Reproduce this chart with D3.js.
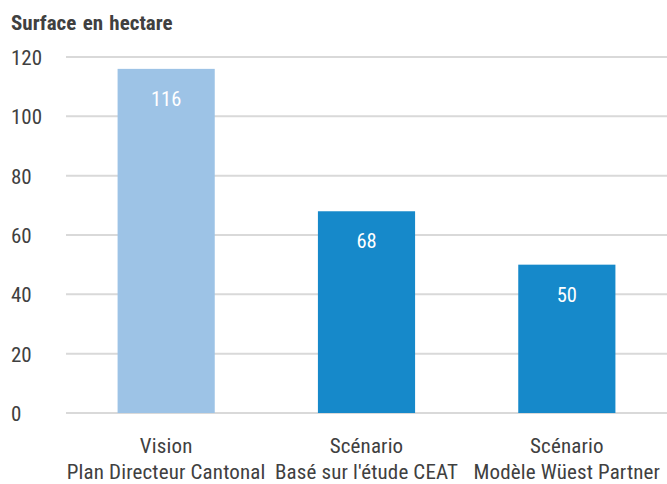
<!DOCTYPE html>
<html>
<head>
<meta charset="utf-8">
<script src="https://cdn.jsdelivr.net/npm/d3@7"></script>
<style>
  html, body { margin: 0; padding: 0; background: #fff; }
  svg { display: block; }
  svg text { font-family: "Liberation Sans Narrow", "Arial Narrow", "Roboto Condensed", sans-serif; }
</style>
</head>
<body>
<svg id="chart" width="667" height="484"></svg>
<script>
// Surface area (hectares) per planning scenario
const categories = [
  ["Vision", "Plan Directeur Cantonal"],
  ["Scénario", "Basé sur l'étude CEAT"],
  ["Scénario", "Modèle Wüest Partner"]
];
const values = [116, 68, 50];
const barColors = ["#9dc3e6", "#1689ca", "#1689ca"];
const yTicks = [0, 20, 40, 60, 80, 100, 120];
const title = "Surface en hectare";

const svg = d3.select("#chart");
const margin = { top: 57, right: 0, bottom: 71, left: 66 };
const W = 667, H = 484;

const x = d3.scaleBand()
  .domain(d3.range(categories.length))
  .range([margin.left, W - margin.right])
  .paddingInner(0.515)
  .paddingOuter(0.2575);

const y = d3.scaleLinear()
  .domain([0, 120])
  .range([H - margin.bottom, margin.top]);

// Title
svg.append("text")
  .attr("x", 11).attr("y", 30)
  .attr("fill", "#404040")
  .attr("font-size", 21)
  .attr("font-weight", "bold")
  .attr("word-spacing", 1.5)
  .text(title);

// Gridlines
svg.append("g")
  .selectAll("line")
  .data(yTicks)
  .join("line")
  .attr("x1", margin.left).attr("x2", W)
  .attr("y1", d => y(d)).attr("y2", d => y(d))
  .attr("stroke", "#d9d9d9")
  .attr("stroke-width", 2);

// Y axis labels
const yAxis = d3.axisLeft(y).tickValues(yTicks).tickSize(0).tickPadding(0);
const gy = svg.append("g")
  .attr("transform", "translate(11,0)")
  .call(yAxis)
  .attr("font-family", null)
  .attr("font-size", null);
gy.select(".domain").remove();
gy.selectAll("text")
  .attr("text-anchor", "start")
  .attr("x", 0)
  .attr("dy", "0.36em")
  .attr("fill", "#404040")
  .attr("font-size", 21);

// Bars
svg.append("g")
  .selectAll("rect")
  .data(values)
  .join("rect")
  .attr("x", (d, i) => x(i))
  .attr("width", x.bandwidth())
  .attr("y", d => y(d))
  .attr("height", d => y(0) - y(d))
  .attr("fill", (d, i) => barColors[i]);

// Value labels
svg.append("g")
  .selectAll("text")
  .data(values)
  .join("text")
  .attr("x", (d, i) => x(i) + x.bandwidth() / 2)
  .attr("y", d => y(d) + 37)
  .attr("text-anchor", "middle")
  .attr("fill", "#ffffff")
  .attr("font-size", 20.5)
  .text(d => d);

// Category labels (two lines)
const cat = svg.append("g")
  .selectAll("text")
  .data(categories)
  .join("text")
  .attr("text-anchor", "middle")
  .attr("fill", "#404040")
  .attr("font-size", 21)
  .attr("letter-spacing", 0.15);
cat.each(function(lines, i) {
  const t = d3.select(this);
  const cx = x(i) + x.bandwidth() / 2;
  lines.forEach((s, k) => {
    t.append("tspan")
      .attr("x", cx)
      .attr("y", 453 + k * 25.5)
      .text(s);
  });
});
</script>
</body>
</html>
